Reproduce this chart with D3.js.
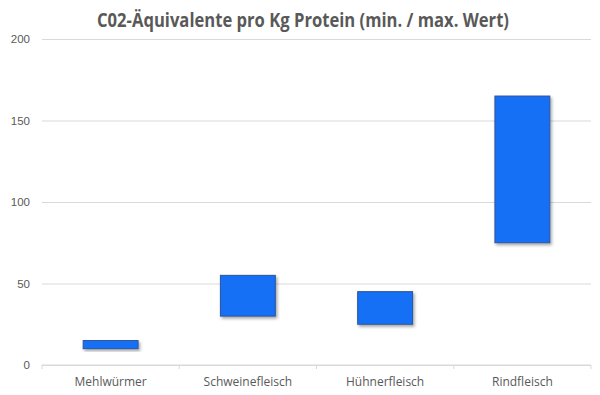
<!DOCTYPE html>
<html>
<head>
<meta charset="utf-8">
<script src="https://cdn.jsdelivr.net/npm/d3@7"></script>
<style>
  body { margin: 0; background: #fff; }
  svg { font-family: "Open Sans", "Noto Sans", sans-serif; }
</style>
</head>
<body>
<div id="chart"></div>
<script>
// data
const categories = ["Mehlwürmer", "Schweinefleisch", "Hühnerfleisch", "Rindfleisch"]
const minValues = [10, 30, 25, 75]
const maxValues = [15, 55, 45, 165]
const yTicks = [0, 50, 100, 150, 200]

const data = categories.map((c, i) => ({ cat: c, min: minValues[i], max: maxValues[i] }))

const dimensions = {
    width: 600,
    height: 395,
    margin: { top: 39, right: 9, bottom: 30, left: 42 },
}
dimensions.boundedWidth = dimensions.width - dimensions.margin.left - dimensions.margin.right
dimensions.boundedHeight = dimensions.height - dimensions.margin.top - dimensions.margin.bottom

const wrapper = d3.select("#chart")
    .append("svg")
    .attr("width", dimensions.width)
    .attr("height", dimensions.height)

const defs = wrapper.append("defs")
const shadow = defs.append("filter")
    .attr("id", "shadow")
    .attr("x", "-20%").attr("y", "-20%")
    .attr("width", "150%").attr("height", "150%")
shadow.append("feDropShadow")
    .attr("dx", 1.5).attr("dy", 2)
    .attr("stdDeviation", 1.5)
    .attr("flood-color", "#000")
    .attr("flood-opacity", 0.35)

// title, squeezed a bit to match the narrower original font
wrapper.append("text")
    .attr("x", 303)
    .attr("y", 27)
    .attr("text-anchor", "middle")
    .attr("fill", "#595959")
    .attr("textLength", 412)
    .attr("lengthAdjust", "spacingAndGlyphs")
    .style("font-size", "19px")
    .style("font-weight", "bold")
    .text("C02-Äquivalente pro Kg Protein (min. / max. Wert)")

const bounds = wrapper.append("g")
    .attr("transform", `translate(${dimensions.margin.left},${dimensions.margin.top})`)

const xScale = d3.scaleBand()
    .domain(categories)
    .range([0, dimensions.boundedWidth])
    .paddingInner(0.6)
    .paddingOuter(0.3)

const yScale = d3.scaleLinear()
    .domain([0, 200])
    .range([dimensions.boundedHeight, 0])

// gridlines + y labels
const yAxis = bounds.append("g")
    .call(d3.axisLeft(yScale).tickValues(yTicks).tickSize(-dimensions.boundedWidth).tickPadding(12))
yAxis.select(".domain").remove()
yAxis.selectAll(".tick line").attr("stroke", "#d9d9d9")
yAxis.selectAll(".tick text")
    .attr("fill", "#595959")
    .style("font-size", "11.5px")

// x axis
const xBandTicks = d3.scaleLinear().domain([0, categories.length]).range([0, dimensions.boundedWidth])
const xAxis = bounds.append("g")
    .attr("transform", `translate(0,${dimensions.boundedHeight})`)
xAxis.append("line")
    .attr("x1", 0).attr("x2", dimensions.boundedWidth)
    .attr("stroke", "#d9d9d9")
xAxis.selectAll(".sep")
    .data(d3.range(categories.length + 1))
    .join("line")
    .attr("class", "sep")
    .attr("x1", d => xBandTicks(d)).attr("x2", d => xBandTicks(d))
    .attr("y1", 0).attr("y2", 4)
    .attr("stroke", "#d9d9d9")
xAxis.selectAll(".lbl")
    .data(categories)
    .join("text")
    .attr("class", "lbl")
    .attr("x", d => xScale(d) + xScale.bandwidth() / 2)
    .attr("y", 21)
    .attr("text-anchor", "middle")
    .attr("fill", "#595959")
    .style("font-size", "12px")
    .text(d => d)

// floating bars
bounds.selectAll(".bar")
    .data(data)
    .join("rect")
    .attr("class", "bar")
    .attr("x", d => xScale(d.cat))
    .attr("width", xScale.bandwidth())
    .attr("y", d => yScale(d.max))
    .attr("height", d => yScale(d.min) - yScale(d.max))
    .attr("fill", "#1570f5")
    .attr("stroke", "#2f5597")
    .attr("stroke-width", 1)
    .attr("filter", "url(#shadow)")
</script>
</body>
</html>
